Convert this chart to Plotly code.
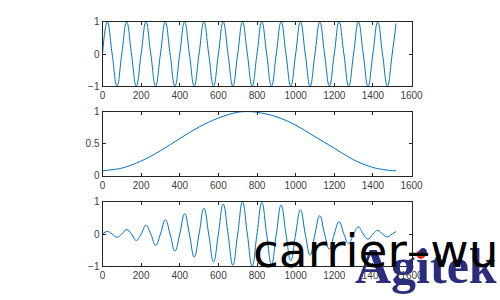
import plotly.graph_objects as go

# ---- data ----
# carrier: sample positions at quarter periods, values at those positions
carrier_x = [0, 25, 50, 75, 100, 125, 150, 175, 200, 225, 250, 275, 300, 325, 350, 375,
             400, 425, 450, 475, 500, 525, 550, 575, 600, 625, 650, 675, 700, 725, 750, 775,
             800, 825, 850, 875, 900, 925, 950, 975, 1000, 1025, 1050, 1075, 1100, 1125, 1150, 1175,
             1200, 1225, 1250, 1275, 1300, 1325, 1350, 1375, 1400, 1425, 1450, 1475, 1500, 1520]
carrier_y = [0, 1, 0, -1, 0, 1, 0, -1, 0, 1, 0, -1, 0, 1, 0, -1,
             0, 1, 0, -1, 0, 1, 0, -1, 0, 1, 0, -1, 0, 1, 0, -1,
             0, 1, 0, -1, 0, 1, 0, -1, 0, 1, 0, -1, 0, 1, 0, -1,
             0, 1, 0, -1, 0, 1, 0, -1, 0, 1, 0, -1, 0, 0.95]

# window
window_x = [0, 100, 200, 300, 400, 500, 600, 700, 760, 800, 900, 1000, 1100, 1200, 1300, 1400, 1500, 1520]
window_y = [0.08, 0.12, 0.23, 0.39, 0.58, 0.76, 0.90, 0.99, 1.00, 0.99, 0.92, 0.79, 0.61, 0.43, 0.25, 0.13, 0.08, 0.08]

# modulated signal
mod_x = carrier_x
mod_y = [0, 0.08, 0, -0.10, 0, 0.14, 0, -0.20, 0, 0.27, 0, -0.35, 0, 0.44, 0, -0.53,
         0, 0.63, 0, -0.72, 0, 0.80, 0, -0.87, 0, 0.93, 0, -0.97, 0, 1.00, 0, -1.00,
         0, 0.98, 0, -0.95, 0, 0.90, 0, -0.83, 0, 0.75, 0, -0.66, 0, 0.57, 0, -0.47,
         0, 0.38, 0, -0.30, 0, 0.22, 0, -0.16, 0, 0.11, 0, -0.09, 0, 0.08]

x_ticks = [0, 200, 400, 600, 800, 1000, 1200, 1400, 1600]
y_ticks_top = [-1, 0, 1]
y_ticks_mid = [0, 0.5, 1]
y_ticks_bot = [-1, 0, 1]

LINE = "#0072BD"
AX = "#262626"
TXT = "#404040"

fig = go.Figure()
fig.add_trace(go.Scatter(x=carrier_x, y=carrier_y, mode="lines",
                         line=dict(color=LINE, width=1, shape="spline", smoothing=1.3),
                         xaxis="x", yaxis="y", showlegend=False))
fig.add_trace(go.Scatter(x=window_x, y=window_y, mode="lines",
                         line=dict(color=LINE, width=1, shape="spline", smoothing=1),
                         xaxis="x2", yaxis="y2", showlegend=False))
fig.add_trace(go.Scatter(x=mod_x, y=mod_y, mode="lines",
                         line=dict(color=LINE, width=1, shape="spline", smoothing=1.3),
                         xaxis="x3", yaxis="y3", showlegend=False))

xd = [0.205, 0.823]
common = dict(showline=True, mirror="allticks", linecolor=AX, linewidth=1,
              ticks="inside", ticklen=3, tickcolor=AX, showgrid=False, zeroline=False,
              tickfont=dict(family="Liberation Sans", size=10, color=TXT))

def xa(anchor):
    return dict(domain=xd, anchor=anchor, range=[0, 1600], tickvals=x_ticks, **common)

def ya(anchor, dom, rng, tv):
    return dict(domain=dom, anchor=anchor, range=rng, tickvals=tv, **common)

fig.update_layout(
    width=500, height=300,
    margin=dict(l=0, r=0, t=0, b=0, autoexpand=False),
    paper_bgcolor="white", plot_bgcolor="white",
    xaxis=xa("y"), yaxis=ya("x", [0.713, 0.927], [-1, 1], y_ticks_top),
    xaxis2=xa("y2"), yaxis2=ya("x2", [0.414, 0.628], [0, 1], y_ticks_mid),
    xaxis3=xa("y3"), yaxis3=ya("x3", [0.113, 0.327], [-1, 1], y_ticks_bot),
)

# watermark "Agitek"
fig.add_annotation(text="<b>Agitek</b>", xref="paper", yref="paper", x=0.706, y=0.012,
                   xanchor="left", yanchor="bottom", showarrow=False,
                   font=dict(family="Liberation Serif", size=50, color="#2b2d7c"))
fig.add_shape(type="circle", xref="paper", yref="paper",
              x0=0.833, x1=0.851, y0=0.137, y1=0.167,
              fillcolor="#e0302a", line=dict(width=0))

# overlay text
fig.add_annotation(text="carrier–wu", xref="paper", yref="paper", x=0.502, y=0.067,
                   xanchor="left", yanchor="bottom", showarrow=False,
                   font=dict(family="DejaVu Sans", size=47, color="black"))

fig.write_html("out.html")
